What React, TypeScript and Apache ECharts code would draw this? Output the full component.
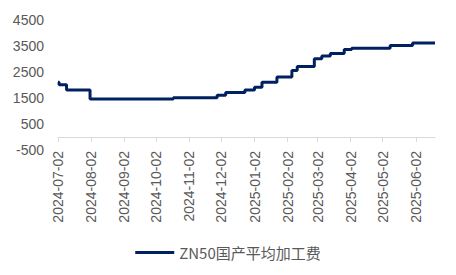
import React, { useEffect, useRef } from "react";
import * as echarts from "echarts";

// Change points of the series (value holds from the date until the next change)
const changeDates = [
  "2024-07-02", "2024-07-03", "2024-07-10", "2024-08-01", "2024-10-18",
  "2024-11-28", "2024-12-06", "2024-12-24", "2025-01-02", "2025-01-09",
  "2025-01-23", "2025-02-06", "2025-02-11", "2025-02-27", "2025-03-06",
  "2025-03-14", "2025-03-27", "2025-04-03", "2025-05-09", "2025-05-30",
  "2025-06-20",
];
const feeValues = [
  2100, 2000, 1800, 1450, 1500,
  1600, 1700, 1800, 1900, 2100,
  2300, 2550, 2700, 3000, 3100,
  3200, 3350, 3400, 3500, 3600,
  3600,
];
const tickDates = [
  "2024-07-02", "2024-08-02", "2024-09-02", "2024-10-02", "2024-11-02",
  "2024-12-02", "2025-01-02", "2025-02-02", "2025-03-02", "2025-04-02",
  "2025-05-02", "2025-06-02",
];
const axisStart = "2024-07-02";
const axisEnd = "2025-06-20";
const seriesName = "ZN50国产平均加工费";

function ts(s: string): number {
  const [y, m, d] = s.split("-").map(Number);
  return Date.UTC(y, m - 1, d) / 86400000; // day number
}
function fmt(v: number): string {
  const d = new Date(Math.round(v) * 86400000);
  const p = (n: number) => (n < 10 ? "0" + n : "" + n);
  return d.getUTCFullYear() + "-" + p(d.getUTCMonth() + 1) + "-" + p(d.getUTCDate());
}

export default function App() {
  const ref = useRef<HTMLDivElement>(null);
  useEffect(() => {
    if (!ref.current) return;
    const chart = echarts.init(ref.current, undefined, { renderer: "svg" });
    const ticks = tickDates.map(ts);
    const data = changeDates.map((d, i) => [ts(d), feeValues[i]]);
    const textColor = "#595959";
    chart.setOption({
      animation: false,
      grid: { left: 58, right: 21, top: 19.5, bottom: 125, containLabel: false },
      xAxis: [
        {
          type: "value",
          min: ts(axisStart),
          max: ts(axisEnd),
          position: "bottom",
          axisLine: { show: true, onZero: true, lineStyle: { color: "#d9d9d9", width: 1 } },
          axisTick: { show: true, length: 5, inside: false, customValues: ticks, lineStyle: { color: "#d9d9d9" } },
          axisLabel: { show: false },
          splitLine: { show: false },
        },
        {
          type: "value",
          min: ts(axisStart),
          max: ts(axisEnd),
          position: "bottom",
          axisLine: { show: false, onZero: false },
          axisTick: { show: false },
          splitLine: { show: false },
          axisLabel: {
            show: true,
            rotate: 90,
            margin: 1,
            customValues: ticks,
            formatter: (v: number) => fmt(v),
            color: textColor,
            fontSize: 14,
            fontFamily: "Liberation Sans",
            hideOverlap: false,
            showMinLabel: true,
            showMaxLabel: true,
          },
        },
      ],
      yAxis: {
        type: "value",
        min: -500,
        max: 4500,
        interval: 1000,
        axisLine: { show: false },
        axisTick: { show: false },
        splitLine: { show: false },
        axisLabel: {
          margin: 14,
          color: textColor,
          fontSize: 14,
          fontFamily: "Liberation Sans",
          formatter: (v: number) => String(v),
        },
      },
      legend: {
        show: true,
        left: "center",
        top: 240,
        itemWidth: 39,
        itemHeight: 14,
        itemGap: 10,
        textStyle: { color: textColor, fontSize: 15, fontFamily: "Noto Sans CJK SC" },
        data: [{ name: seriesName, icon: "path://M0,6 L39,6 L39,9 L0,9 Z" }],
      },
      series: [
        {
          name: seriesName,
          type: "line",
          step: "end",
          xAxisIndex: 0,
          data,
          symbol: "none",
          showSymbol: false,
          lineStyle: { color: "#002060", width: 3 },
          itemStyle: { color: "#002060" },
        },
      ],
    });
    return () => chart.dispose();
  }, []);
  return (
    <div
      ref={ref}
      style={{ position: "fixed", left: 0, top: 0, width: 456, height: 275, background: "#fff" }}
    />
  );
}
